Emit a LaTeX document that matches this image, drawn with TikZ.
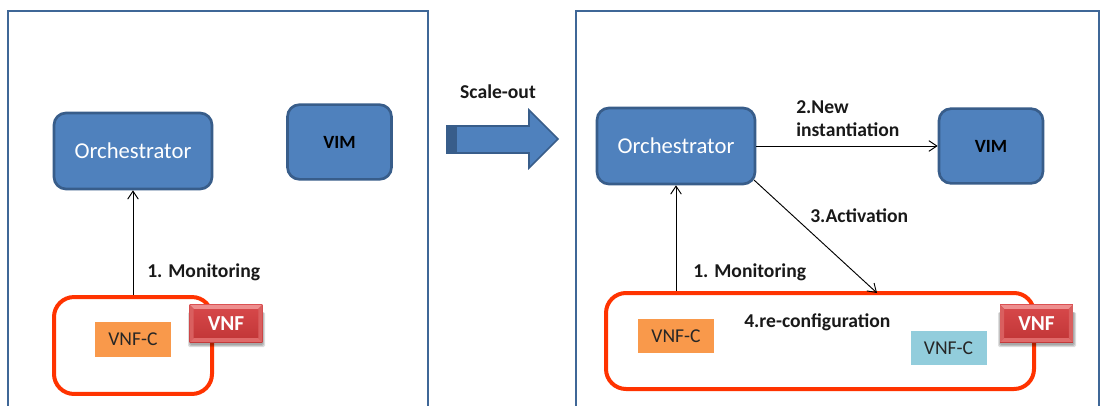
\documentclass[tikz,border=0pt]{standalone}
\usepackage{fontspec}
\setmainfont{Carlito}
\usetikzlibrary{arrows.meta,calc}
\definecolor{bluefill}{HTML}{4F81BD}
\definecolor{blueline}{HTML}{385D8A}
\definecolor{panelline}{HTML}{3F6797}
\definecolor{redline}{HTML}{FF3300}
\definecolor{orangefill}{HTML}{F9994B}
\definecolor{cyanfill}{HTML}{92CDDC}
\definecolor{vnftop}{HTML}{D8494B}
\definecolor{vnfbot}{HTML}{C03536}
\definecolor{vnfhi}{HTML}{EE8E8E}
\definecolor{vnflo}{HTML}{D95F5F}
\definecolor{vnfdk}{HTML}{E06A6A}
\tikzset{
  x=0.75pt,y=-0.75pt,
  panel/.style={draw=panelline,line width=0.9pt},
  bluebox/.style={draw=blueline,line width=2pt,fill=bluefill,rounded corners=9pt,inner sep=0pt,text=white},
  orch/.style={bluebox,minimum width=118.5pt,minimum height=57pt,font=\fontsize{17}{20}\selectfont},
  vimbox/.style={bluebox,minimum width=78pt,minimum height=56pt,text=black,font=\fontsize{14}{16}\selectfont\bfseries},
  vnfgroup/.style={draw=redline,line width=3pt,rounded corners=15pt,inner sep=0pt},
  compbox/.style={minimum width=57pt,minimum height=26pt,inner sep=0pt,font=\fontsize{14.7}{17}\selectfont,text=black!85},
  shadowrect/.style={fill=black,opacity=0.13,rounded corners=1pt},
  vnfbadge/.style={minimum width=54.5pt,minimum height=28pt,inner sep=0pt,fill=vnfbot,text=white,
    font=\fontsize{16}{18}\selectfont\bfseries,
    path picture={
      \coordinate (bl) at (path picture bounding box.south west);
      \coordinate (tr) at (path picture bounding box.north east);
      \coordinate (br) at (path picture bounding box.south east);
      \coordinate (tl) at (path picture bounding box.north west);
      \coordinate (ibl) at ($(bl)+(3pt,3pt)$);
      \coordinate (itr) at ($(tr)+(-3pt,-3pt)$);
      \coordinate (ibr) at ($(br)+(-3pt,3pt)$);
      \coordinate (itl) at ($(tl)+(3pt,-3pt)$);
      \shade[top color=vnftop,bottom color=vnfbot] (tl) rectangle (br);
      \fill[vnfhi] (tl)--(tr)--(itr)--(itl)--cycle;
      \fill[vnflo] (tl)--(bl)--(ibl)--(itl)--cycle;
      \fill[vnflo] (tr)--(br)--(ibr)--(itr)--cycle;
      \fill[vnfdk] (bl)--(br)--(ibr)--(ibl)--cycle;
    }},
  lbl/.style={inner sep=0pt,font=\fontsize{14.7}{17.25}\selectfont\bfseries,text=black!90,align=left},
  conn/.style={draw=black,line width=0.7pt,-{Straight Barb[length=6pt,width=8pt]}},
  bigarrow/.style={draw=blueline,line width=1.2pt,fill=bluefill,line join=miter},
}
\begin{document}
\begin{tikzpicture}
\useasboundingbox (0,0) rectangle (1109,406);
\fill[white] (0,0) rectangle (1109,406);
% panels
\draw[panel] (8,406) -- (8,11) -- (428,11) -- (428,406);
\draw[panel] (576,406) -- (576,11) -- (1099,11) -- (1099,406);
% left panel
\node[orch] (orchL) at (133,151) {Orchestrator};
\node[vimbox] (vimL) at (339.5,142) {VIM};
\node[vnfgroup,minimum width=118.5pt,minimum height=72.7pt] (groupL) at (133,345.5) {};
\node[compbox,fill=orangefill] (compL) at (133,339.5) {VNF-C};
\fill[shadowrect] (188,312) rectangle (265,347);
\fill[shadowrect] (189,312) rectangle (264,346);
\fill[shadowrect] (190,312) rectangle (263,345);
\node[vnfbadge] (vnfL) at (226,323.5) {VNF};
\draw[conn] (groupL.north) -- (orchL.south);
\node[lbl,anchor=west] (monL) at (147,272.5) {1. Monitoring};
% scale-out arrow
\node[lbl] (scale) at (498,92) {Scale-out};
\draw[bigarrow] (447,126) -- (529,126) -- (529,110) -- (558,139) -- (529,168) -- (529,153) -- (447,153) -- cycle;
\fill[blueline] (447,126.5) rectangle (457,152.5);
% right panel
\node[orch] (orchR) at (676,146) {Orchestrator};
\node[vimbox] (vimR) at (991,146) {VIM};
\node[vnfgroup,minimum width=321pt,minimum height=72pt] (groupR) at (820,341) {};
\node[compbox,fill=orangefill] (compR1) at (676,336) {VNF-C};
\node[compbox,fill=cyanfill] (compR2) at (948.5,348) {VNF-C};
\fill[shadowrect] (998,312) rectangle (1076,347);
\fill[shadowrect] (999,312) rectangle (1075,346);
\fill[shadowrect] (1000,312) rectangle (1074,345);
\node[vnfbadge] (vnfR) at (1036.5,323.5) {VNF};
\coordinate (actS) at (754,180);
\coordinate (actE) at (877,293);
\draw[conn] (orchR.south |- groupR.north) -- (orchR.south);
\draw[conn] (orchR.east) -- (vimR.west);
\draw[conn] (actS) -- (actE);
\node[lbl,anchor=west] (monR) at (693,272.5) {1. Monitoring};
\node[lbl,anchor=west] (newR) at (796,119) {2.New\\instantiation};
\node[lbl,anchor=west] (actR) at (810,216) {3.Activation};
\node[lbl,anchor=west] (cfgR) at (744,322) {4.re-configuration};
\end{tikzpicture}
\end{document}
